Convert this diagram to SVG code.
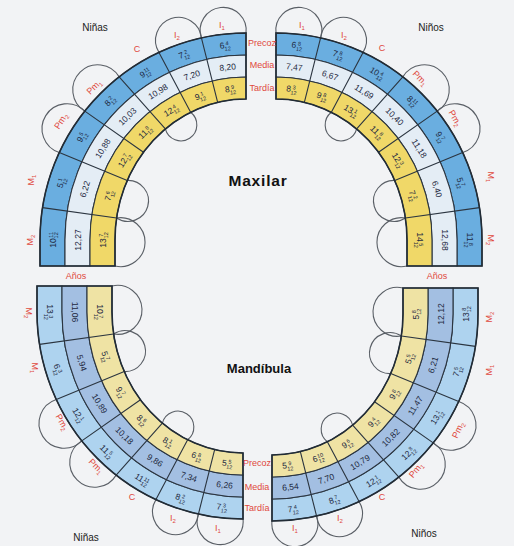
<svg xmlns="http://www.w3.org/2000/svg" xmlns:xlink="http://www.w3.org/1999/xlink" width="514" height="546" viewBox="0 0 514 546">
<style>
.n{font-family:"Liberation Sans",Arial,sans-serif;font-size:8.5px;fill:#1d2840;text-anchor:middle}
.fr{font-size:5.5px}
.lb{font-family:"Liberation Sans",Arial,sans-serif;font-size:9px;fill:#e0483c;text-anchor:middle}
.sb{font-size:6px}
.ttl{font-family:"Liberation Sans",Arial,sans-serif;font-weight:bold;fill:#111;text-anchor:middle}
.sx{font-family:"Liberation Sans",Arial,sans-serif;font-size:10px;fill:#222;text-anchor:middle}
.band{stroke:#2b3540;stroke-width:1.1}
.div{stroke:#2b3540;stroke-width:1.1;fill:none}
.lobe{fill:none;stroke:#5a5f66;stroke-width:1.1}
.edge{fill:none;stroke:#222c36;stroke-width:1.6}
</style>
<defs>
<path id="b0" d="M0,-207 A206,207 0 0 0 -206,0 L-206,26 L-181,26 L-181,0 A181,185 0 0 1 0,-185 Z"/>
<path id="b1" d="M0,-185 A181,185 0 0 0 -181,0 L-181,26 L-156,26 L-156,0 A156,163 0 0 1 0,-163 Z"/>
<path id="b2" d="M0,-163 A156,163 0 0 0 -156,0 L-156,26 L-131,26 L-131,0 A131,141 0 0 1 0,-141 Z"/>
<g id="lines">
<path class="div" d="M-44.59,-202.09L-28.35,-137.66M-87.06,-187.61L-55.36,-127.79M-126.83,-163.12L-80.65,-111.11M-161.22,-128.86L-102.52,-87.77M-186.7,-87.48L-118.73,-59.59M-203.46,-32.38L-129.39,-22.06"/>
<path class="edge" d="M0,-207 A206,207 0 0 0 -206,0 L-206,26 L-131,26 L-131,0 A131,141 0 0 1 0,-141 Z"/>
</g>
<g id="lobes">
<path class="lobe" d="M0,-207 A23,23 0 1 0 -44.59,-202.09"/>
<path class="lobe" d="M-44.59,-202.09 A23,23 0 1 0 -87.06,-187.61"/>
<path class="lobe" d="M-126.83,-163.12 A25,25 0 1 0 -161.22,-128.86"/>
<path class="lobe" d="M-161.22,-128.86 A25,25 0 1 0 -186.7,-87.48"/>
<path class="lobe" d="M-55.36,-127.79 A16,16 0 1 1 -80.65,-111.11"/>
<path class="lobe" d="M-118.73,-59.59 A20.5,20.5 0 1 1 -129.39,-22.06"/>
<path class="lobe" d="M-129.39,-22.06 A24.5,24.5 0 1 1 -131,26"/>
</g>
</defs>
<rect width="514" height="546" fill="#f2f3f5"/>

<g id="quadrant-shapes">
<g id="q-tl" transform="translate(246,240)">
<use xlink:href="#lobes"/>
<use xlink:href="#b0" class="band" fill="#6aaee0"/>
<use xlink:href="#b1" class="band" fill="#e4edf5"/>
<use xlink:href="#b2" class="band" fill="#f0d868"/>
<use xlink:href="#lines"/>
</g>
<g id="q-tr" transform="translate(276,240) scale(-1,1)">
<use xlink:href="#lobes"/>
<use xlink:href="#b0" class="band" fill="#6aaee0"/>
<use xlink:href="#b1" class="band" fill="#e4edf5"/>
<use xlink:href="#b2" class="band" fill="#f0d868"/>
<use xlink:href="#lines"/>
</g>
<g id="q-bl" transform="translate(243,312) scale(1,-1)">
<use xlink:href="#lobes"/>
<use xlink:href="#b0" class="band" fill="#aed3ef"/>
<use xlink:href="#b1" class="band" fill="#a3bfe2"/>
<use xlink:href="#b2" class="band" fill="#efe3a4"/>
<use xlink:href="#lines"/>
</g>
<g id="q-br" transform="translate(272,314) scale(-1,-1)">
<use xlink:href="#lobes"/>
<use xlink:href="#b0" class="band" fill="#aed3ef"/>
<use xlink:href="#b1" class="band" fill="#a3bfe2"/>
<use xlink:href="#b2" class="band" fill="#efe3a4"/>
<use xlink:href="#lines"/>
</g>
</g>

<g id="values-tl" transform="translate(246,240)">
<text class="n" transform="translate(-21.07,-194.84) rotate(-6.25)" y="3">6<tspan class="fr" dx="1.5" dy="-2.8">4</tspan><tspan class="fr" dx="-4.6" dy="5.4">12</tspan></text>
<text class="n" transform="translate(-62.2,-185.6) rotate(-18.75)" y="3">7<tspan class="fr" dx="1.5" dy="-2.8">2</tspan><tspan class="fr" dx="-4.6" dy="5.4">12</tspan></text>
<text class="n" transform="translate(-101.1,-167.12) rotate(-31.5)" y="3">9<tspan class="fr" dx="0.6" dy="-2.8">11</tspan><tspan class="fr" dx="-6.1" dy="5.4">12</tspan></text>
<text class="n" transform="translate(-136.23,-139.2) rotate(-44.75)" y="3">8<tspan class="fr" dx="1.5" dy="-2.8">2</tspan><tspan class="fr" dx="-4.6" dy="5.4">12</tspan></text>
<text class="n" transform="translate(-164.54,-103.14) rotate(-58.25)" y="3">9<tspan class="fr" dx="1.5" dy="-2.8">5</tspan><tspan class="fr" dx="-4.6" dy="5.4">12</tspan></text>
<text class="n" transform="translate(-185.04,-57.3) rotate(-73)" y="3">5<tspan class="fr" dx="1.5" dy="-2.8">1</tspan><tspan class="fr" dx="-4.6" dy="5.4">12</tspan></text>
<text class="n" transform="translate(-193.5,0) rotate(-90)" y="3">10<tspan class="fr" dx="0.6" dy="-2.8">11</tspan><tspan class="fr" dx="-6.1" dy="5.4">12</tspan></text>
<text class="n" transform="translate(-18.34,-172.97) rotate(-6.25)" y="3">8,20</text>
<text class="n" transform="translate(-54.16,-164.77) rotate(-18.75)" y="3">7,20</text>
<text class="n" transform="translate(-88.04,-148.36) rotate(-31.5)" y="3">10,98</text>
<text class="n" transform="translate(-118.63,-123.57) rotate(-44.75)" y="3">10,03</text>
<text class="n" transform="translate(-143.28,-91.56) rotate(-58.25)" y="3">10,88</text>
<text class="n" transform="translate(-161.14,-50.87) rotate(-73)" y="3">6,22</text>
<text class="n" transform="translate(-168.5,0) rotate(-90)" y="3">12,27</text>
<text class="n" transform="translate(-15.62,-151.1) rotate(-6.25)" y="3">8<tspan class="fr" dx="1.5" dy="-2.8">9</tspan><tspan class="fr" dx="-4.6" dy="5.4">12</tspan></text>
<text class="n" transform="translate(-46.13,-143.93) rotate(-18.75)" y="3">9<tspan class="fr" dx="1.5" dy="-2.8">1</tspan><tspan class="fr" dx="-4.6" dy="5.4">12</tspan></text>
<text class="n" transform="translate(-74.98,-129.6) rotate(-31.5)" y="3">12<tspan class="fr" dx="1.5" dy="-2.8">4</tspan><tspan class="fr" dx="-4.6" dy="5.4">12</tspan></text>
<text class="n" transform="translate(-101.03,-107.95) rotate(-44.75)" y="3">11<tspan class="fr" dx="1.5" dy="-2.8">8</tspan><tspan class="fr" dx="-4.6" dy="5.4">12</tspan></text>
<text class="n" transform="translate(-122.03,-79.98) rotate(-58.25)" y="3">12<tspan class="fr" dx="1.5" dy="-2.8">7</tspan><tspan class="fr" dx="-4.6" dy="5.4">12</tspan></text>
<text class="n" transform="translate(-137.23,-44.44) rotate(-73)" y="3">7<tspan class="fr" dx="1.5" dy="-2.8">6</tspan><tspan class="fr" dx="-4.6" dy="5.4">12</tspan></text>
<text class="n" transform="translate(-143.5,0) rotate(-90)" y="3">13<tspan class="fr" dx="1.5" dy="-2.8">7</tspan><tspan class="fr" dx="-4.6" dy="5.4">12</tspan></text>
</g>

<g id="values-tr" transform="translate(276,240)">
<text class="n" transform="translate(21.07,-194.84) rotate(6.25)" y="3">6<tspan class="fr" dx="1.5" dy="-2.8">8</tspan><tspan class="fr" dx="-4.6" dy="5.4">12</tspan></text>
<text class="n" transform="translate(62.2,-185.6) rotate(18.75)" y="3">7<tspan class="fr" dx="1.5" dy="-2.8">8</tspan><tspan class="fr" dx="-4.6" dy="5.4">12</tspan></text>
<text class="n" transform="translate(101.1,-167.12) rotate(31.5)" y="3">10<tspan class="fr" dx="1.5" dy="-2.8">4</tspan><tspan class="fr" dx="-4.6" dy="5.4">12</tspan></text>
<text class="n" transform="translate(136.23,-139.2) rotate(44.75)" y="3">8<tspan class="fr" dx="0.6" dy="-2.8">11</tspan><tspan class="fr" dx="-6.1" dy="5.4">12</tspan></text>
<text class="n" transform="translate(164.54,-103.14) rotate(58.25)" y="3">9<tspan class="fr" dx="1.5" dy="-2.8">7</tspan><tspan class="fr" dx="-4.6" dy="5.4">12</tspan></text>
<text class="n" transform="translate(185.04,-57.3) rotate(73)" y="3">5<tspan class="fr" dx="1.5" dy="-2.8">7</tspan><tspan class="fr" dx="-4.6" dy="5.4">12</tspan></text>
<text class="n" transform="translate(193.5,0) rotate(90)" y="3">11<tspan class="fr" dx="1.5" dy="-2.8">8</tspan><tspan class="fr" dx="-4.6" dy="5.4">12</tspan></text>
<text class="n" transform="translate(18.34,-172.97) rotate(6.25)" y="3">7,47</text>
<text class="n" transform="translate(54.16,-164.77) rotate(18.75)" y="3">6,67</text>
<text class="n" transform="translate(88.04,-148.36) rotate(31.5)" y="3">11,69</text>
<text class="n" transform="translate(118.63,-123.57) rotate(44.75)" y="3">10,40</text>
<text class="n" transform="translate(143.28,-91.56) rotate(58.25)" y="3">11,18</text>
<text class="n" transform="translate(161.14,-50.87) rotate(73)" y="3">6,40</text>
<text class="n" transform="translate(168.5,0) rotate(90)" y="3">12,68</text>
<text class="n" transform="translate(15.62,-151.1) rotate(6.25)" y="3">8<tspan class="fr" dx="1.5" dy="-2.8">3</tspan><tspan class="fr" dx="-4.6" dy="5.4">12</tspan></text>
<text class="n" transform="translate(46.13,-143.93) rotate(18.75)" y="3">9<tspan class="fr" dx="1.5" dy="-2.8">8</tspan><tspan class="fr" dx="-4.6" dy="5.4">12</tspan></text>
<text class="n" transform="translate(74.98,-129.6) rotate(31.5)" y="3">13<tspan class="fr" dx="1.5" dy="-2.8">1</tspan><tspan class="fr" dx="-4.6" dy="5.4">12</tspan></text>
<text class="n" transform="translate(101.03,-107.95) rotate(44.75)" y="3">11<tspan class="fr" dx="1.5" dy="-2.8">8</tspan><tspan class="fr" dx="-4.6" dy="5.4">12</tspan></text>
<text class="n" transform="translate(122.03,-79.98) rotate(58.25)" y="3">12<tspan class="fr" dx="1.5" dy="-2.8">3</tspan><tspan class="fr" dx="-4.6" dy="5.4">12</tspan></text>
<text class="n" transform="translate(137.23,-44.44) rotate(73)" y="3">7<tspan class="fr" dx="1.5" dy="-2.8">2</tspan><tspan class="fr" dx="-4.6" dy="5.4">12</tspan></text>
<text class="n" transform="translate(143.5,0) rotate(90)" y="3">14<tspan class="fr" dx="1.5" dy="-2.8">5</tspan><tspan class="fr" dx="-4.6" dy="5.4">12</tspan></text>
</g>

<g id="values-bl" transform="translate(243,312)">
<text class="n" transform="translate(-21.07,194.84) rotate(6.25)" y="3">7<tspan class="fr" dx="1.5" dy="-2.8">3</tspan><tspan class="fr" dx="-4.6" dy="5.4">12</tspan></text>
<text class="n" transform="translate(-62.2,185.6) rotate(18.75)" y="3">8<tspan class="fr" dx="1.5" dy="-2.8">2</tspan><tspan class="fr" dx="-4.6" dy="5.4">12</tspan></text>
<text class="n" transform="translate(-101.1,167.12) rotate(31.5)" y="3">11<tspan class="fr" dx="0.6" dy="-2.8">11</tspan><tspan class="fr" dx="-6.1" dy="5.4">12</tspan></text>
<text class="n" transform="translate(-136.23,139.2) rotate(44.75)" y="3">11<tspan class="fr" dx="1.5" dy="-2.8">5</tspan><tspan class="fr" dx="-4.6" dy="5.4">12</tspan></text>
<text class="n" transform="translate(-164.54,103.14) rotate(58.25)" y="3">12<tspan class="fr" dx="1.5" dy="-2.8">1</tspan><tspan class="fr" dx="-4.6" dy="5.4">12</tspan></text>
<text class="n" transform="translate(-185.04,57.3) rotate(73)" y="3">6<tspan class="fr" dx="1.5" dy="-2.8">3</tspan><tspan class="fr" dx="-4.6" dy="5.4">12</tspan></text>
<text class="n" transform="translate(-193.5,0) rotate(90)" y="3">13<tspan class="fr" dx="1.5" dy="-2.8">3</tspan><tspan class="fr" dx="-4.6" dy="5.4">12</tspan></text>
<text class="n" transform="translate(-18.34,172.97) rotate(6.25)" y="3">6,26</text>
<text class="n" transform="translate(-54.16,164.77) rotate(18.75)" y="3">7,34</text>
<text class="n" transform="translate(-88.04,148.36) rotate(31.5)" y="3">9,86</text>
<text class="n" transform="translate(-118.63,123.57) rotate(44.75)" y="3">10,18</text>
<text class="n" transform="translate(-143.28,91.56) rotate(58.25)" y="3">10,89</text>
<text class="n" transform="translate(-161.14,50.87) rotate(73)" y="3">5,94</text>
<text class="n" transform="translate(-168.5,0) rotate(90)" y="3">11,06</text>
<text class="n" transform="translate(-15.62,151.1) rotate(6.25)" y="3">5<tspan class="fr" dx="1.5" dy="-2.8">5</tspan><tspan class="fr" dx="-4.6" dy="5.4">12</tspan></text>
<text class="n" transform="translate(-46.13,143.93) rotate(18.75)" y="3">6<tspan class="fr" dx="1.5" dy="-2.8">8</tspan><tspan class="fr" dx="-4.6" dy="5.4">12</tspan></text>
<text class="n" transform="translate(-74.98,129.6) rotate(31.5)" y="3">8<tspan class="fr" dx="1.5" dy="-2.8">1</tspan><tspan class="fr" dx="-4.6" dy="5.4">12</tspan></text>
<text class="n" transform="translate(-101.03,107.95) rotate(44.75)" y="3">8<tspan class="fr" dx="1.5" dy="-2.8">6</tspan><tspan class="fr" dx="-4.6" dy="5.4">12</tspan></text>
<text class="n" transform="translate(-122.03,79.98) rotate(58.25)" y="3">9<tspan class="fr" dx="1.5" dy="-2.8">7</tspan><tspan class="fr" dx="-4.6" dy="5.4">12</tspan></text>
<text class="n" transform="translate(-137.23,44.44) rotate(73)" y="3">5<tspan class="fr" dx="1.5" dy="-2.8">7</tspan><tspan class="fr" dx="-4.6" dy="5.4">12</tspan></text>
<text class="n" transform="translate(-143.5,0) rotate(90)" y="3">10<tspan class="fr" dx="1.5" dy="-2.8">7</tspan><tspan class="fr" dx="-4.6" dy="5.4">12</tspan></text>
</g>

<g id="values-br" transform="translate(272,314)">
<text class="n" transform="translate(21.07,194.84) rotate(-6.25)" y="3">7<tspan class="fr" dx="1.5" dy="-2.8">4</tspan><tspan class="fr" dx="-4.6" dy="5.4">12</tspan></text>
<text class="n" transform="translate(62.2,185.6) rotate(-18.75)" y="3">8<tspan class="fr" dx="1.5" dy="-2.8">7</tspan><tspan class="fr" dx="-4.6" dy="5.4">12</tspan></text>
<text class="n" transform="translate(101.1,167.12) rotate(-31.5)" y="3">12<tspan class="fr" dx="1.5" dy="-2.8">1</tspan><tspan class="fr" dx="-4.6" dy="5.4">12</tspan></text>
<text class="n" transform="translate(136.23,139.2) rotate(-44.75)" y="3">12<tspan class="fr" dx="1.5" dy="-2.8">8</tspan><tspan class="fr" dx="-4.6" dy="5.4">12</tspan></text>
<text class="n" transform="translate(164.54,103.14) rotate(-58.25)" y="3">13<tspan class="fr" dx="1.5" dy="-2.8">1</tspan><tspan class="fr" dx="-4.6" dy="5.4">12</tspan></text>
<text class="n" transform="translate(185.04,57.3) rotate(-73)" y="3">7<tspan class="fr" dx="1.5" dy="-2.8">5</tspan><tspan class="fr" dx="-4.6" dy="5.4">12</tspan></text>
<text class="n" transform="translate(193.5,0) rotate(-90)" y="3">13<tspan class="fr" dx="1.5" dy="-2.8">8</tspan><tspan class="fr" dx="-4.6" dy="5.4">12</tspan></text>
<text class="n" transform="translate(18.34,172.97) rotate(-6.25)" y="3">6,54</text>
<text class="n" transform="translate(54.16,164.77) rotate(-18.75)" y="3">7,70</text>
<text class="n" transform="translate(88.04,148.36) rotate(-31.5)" y="3">10,79</text>
<text class="n" transform="translate(118.63,123.57) rotate(-44.75)" y="3">10,82</text>
<text class="n" transform="translate(143.28,91.56) rotate(-58.25)" y="3">11,47</text>
<text class="n" transform="translate(161.14,50.87) rotate(-73)" y="3">6,21</text>
<text class="n" transform="translate(168.5,0) rotate(-90)" y="3">12,12</text>
<text class="n" transform="translate(15.62,151.1) rotate(-6.25)" y="3">5<tspan class="fr" dx="1.5" dy="-2.8">9</tspan><tspan class="fr" dx="-4.6" dy="5.4">12</tspan></text>
<text class="n" transform="translate(46.13,143.93) rotate(-18.75)" y="3">6<tspan class="fr" dx="0.6" dy="-2.8">10</tspan><tspan class="fr" dx="-6.1" dy="5.4">12</tspan></text>
<text class="n" transform="translate(74.98,129.6) rotate(-31.5)" y="3">9<tspan class="fr" dx="1.5" dy="-2.8">6</tspan><tspan class="fr" dx="-4.6" dy="5.4">12</tspan></text>
<text class="n" transform="translate(101.03,107.95) rotate(-44.75)" y="3">9<tspan class="fr" dx="1.5" dy="-2.8">4</tspan><tspan class="fr" dx="-4.6" dy="5.4">12</tspan></text>
<text class="n" transform="translate(122.03,79.98) rotate(-58.25)" y="3">9<tspan class="fr" dx="1.5" dy="-2.8">8</tspan><tspan class="fr" dx="-4.6" dy="5.4">12</tspan></text>
<text class="n" transform="translate(137.23,44.44) rotate(-73)" y="3">5<tspan class="fr" dx="1.5" dy="-2.8">5</tspan><tspan class="fr" dx="-4.6" dy="5.4">12</tspan></text>
<text class="n" transform="translate(143.5,0) rotate(-90)" y="3">5<tspan class="fr" dx="1.5" dy="-2.8">8</tspan><tspan class="fr" dx="-4.6" dy="5.4">12</tspan></text>
</g>

<g id="tooth-labels">
<text class="lb" x="222" y="28">I<tspan class="sb" dy="2">1</tspan></text>
<text class="lb" x="177" y="38">I<tspan class="sb" dy="2">2</tspan></text>
<text class="lb" x="137" y="52">C</text>
<text class="lb" transform="translate(94,87) rotate(-45)" y="3">Pm<tspan class="sb" dy="2">1</tspan></text>
<text class="lb" transform="translate(61,121) rotate(-58)" y="3">Pm<tspan class="sb" dy="2">2</tspan></text>
<text class="lb" transform="translate(31,180) rotate(-90)" y="3">M<tspan class="sb" dy="2">1</tspan></text>
<text class="lb" transform="translate(30,240) rotate(-90)" y="3">M<tspan class="sb" dy="2">2</tspan></text>

<text class="lb" x="302" y="28">I<tspan class="sb" dy="2">1</tspan></text>
<text class="lb" x="344" y="38">I<tspan class="sb" dy="2">2</tspan></text>
<text class="lb" x="382" y="51">C</text>
<text class="lb" transform="translate(420,78) rotate(45)" y="3">Pm<tspan class="sb" dy="2">1</tspan></text>
<text class="lb" transform="translate(455,118) rotate(60)" y="3">Pm<tspan class="sb" dy="2">2</tspan></text>
<text class="lb" transform="translate(491,177) rotate(90)" y="3">M<tspan class="sb" dy="2">1</tspan></text>
<text class="lb" transform="translate(491,240) rotate(90)" y="3">M<tspan class="sb" dy="2">2</tspan></text>

<text class="lb" transform="translate(29,313) rotate(90)" y="3">M<tspan class="sb" dy="2">2</tspan></text>
<text class="lb" transform="translate(35,368) rotate(90)" y="3">M<tspan class="sb" dy="2">1</tspan></text>
<text class="lb" transform="translate(62,422) rotate(60)" y="3">Pm<tspan class="sb" dy="2">2</tspan></text>
<text class="lb" transform="translate(96,466) rotate(45)" y="3">Pm<tspan class="sb" dy="2">1</tspan></text>
<text class="lb" x="132" y="500">C</text>
<text class="lb" x="173" y="521">I<tspan class="sb" dy="2">2</tspan></text>
<text class="lb" x="218" y="531">I<tspan class="sb" dy="2">1</tspan></text>

<text class="lb" x="295" y="531">I<tspan class="sb" dy="2">1</tspan></text>
<text class="lb" x="340" y="521">I<tspan class="sb" dy="2">2</tspan></text>
<text class="lb" x="382" y="500">C</text>
<text class="lb" transform="translate(416,470) rotate(-50)" y="3">Pm<tspan class="sb" dy="2">1</tspan></text>
<text class="lb" transform="translate(458,430) rotate(-65)" y="3">Pm<tspan class="sb" dy="2">2</tspan></text>
<text class="lb" transform="translate(489,370) rotate(-90)" y="3">M<tspan class="sb" dy="2">1</tspan></text>
<text class="lb" transform="translate(489,317) rotate(-90)" y="3">M<tspan class="sb" dy="2">2</tspan></text>
</g>

<g id="row-labels">
<text class="lb" x="262" y="46">Precoz</text>
<text class="lb" x="262" y="68">Media</text>
<text class="lb" x="262" y="91">Tardía</text>
<text class="lb" x="257" y="466">Precoz</text>
<text class="lb" x="257" y="490">Media</text>
<text class="lb" x="257" y="511">Tardía</text>
<text class="lb" x="76" y="279">Años</text>
<text class="lb" x="437" y="279">Años</text>
</g>

<g id="titles">
<text class="ttl" x="258" y="186" font-size="15.5" letter-spacing="0.8">Maxilar</text>
<text class="ttl" x="259" y="373" font-size="13">Mandíbula</text>
<text class="sx" x="95" y="31">Niñas</text>
<text class="sx" x="431" y="31">Niños</text>
<text class="sx" x="86" y="541">Niñas</text>
<text class="sx" x="424" y="537">Niños</text>
</g>
</svg>
